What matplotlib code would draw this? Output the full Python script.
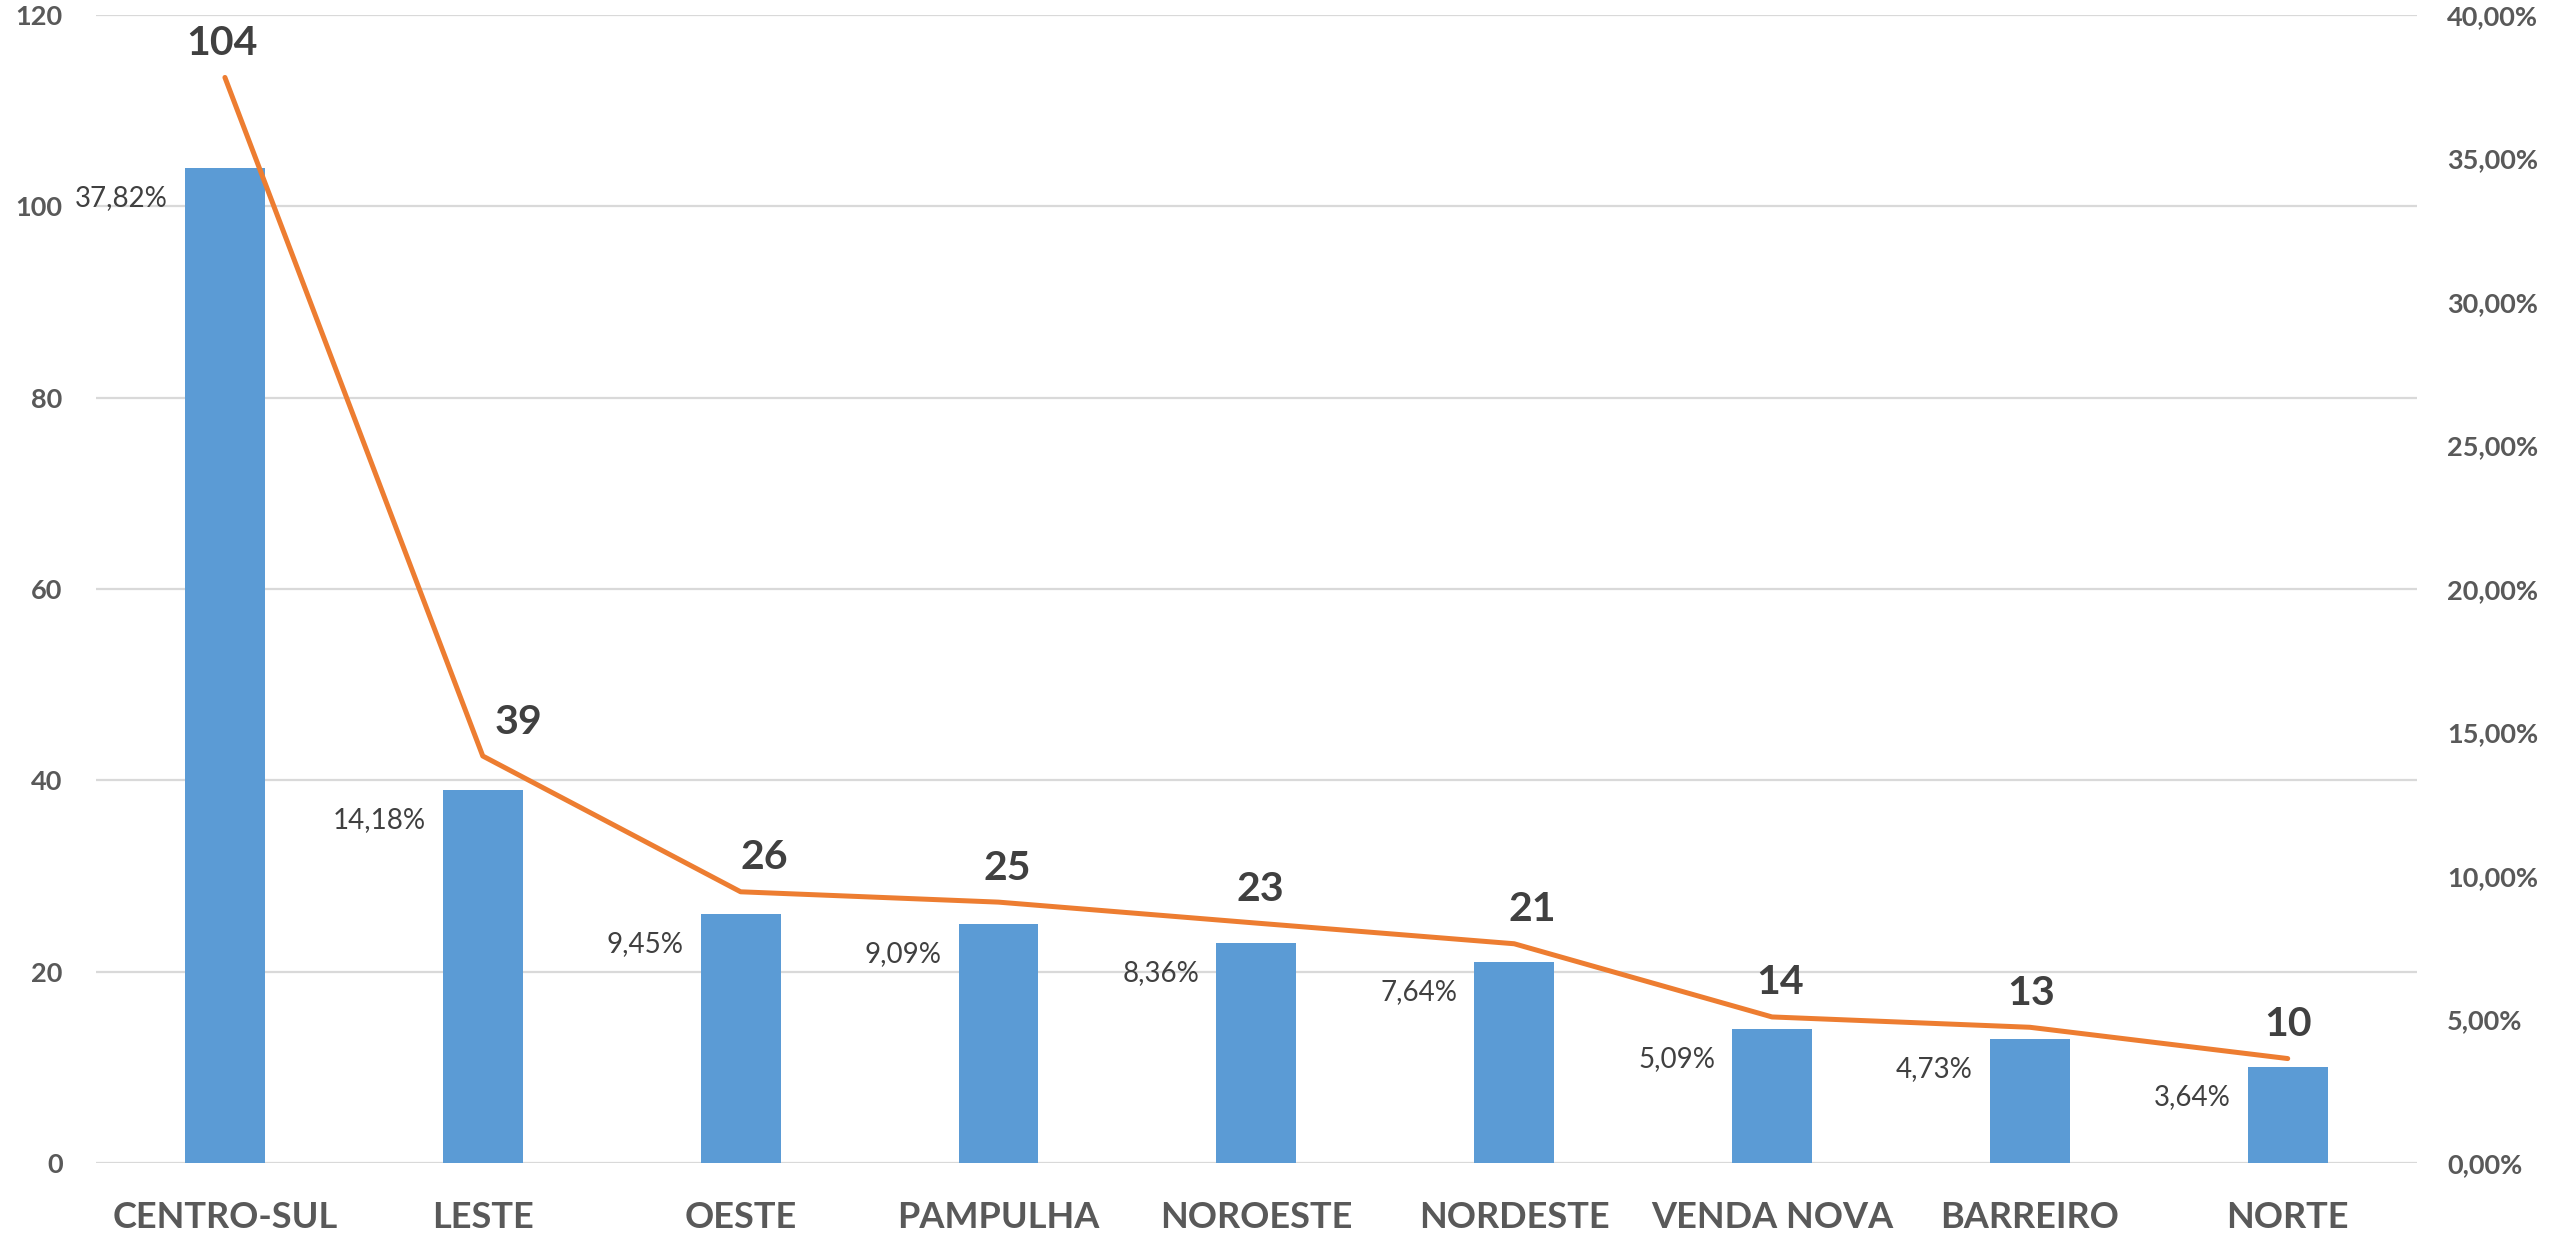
import matplotlib
matplotlib.use("Agg")
import matplotlib.pyplot as plt
from matplotlib.ticker import FuncFormatter

# data
regions = ["CENTRO-SUL", "LESTE", "OESTE", "PAMPULHA", "NOROESTE",
           "NORDESTE", "VENDA NOVA", "BARREIRO", "NORTE"]
counts = [104, 39, 26, 25, 23, 21, 14, 13, 10]
shares = [37.82, 14.18, 9.45, 9.09, 8.36, 7.64, 5.09, 4.73, 3.64]

# horizontal nudge of the count labels, in pixels (style only)
num_dx = [-3, 36, 24, 9, 4, 18, 8, 1, 0]

BLUE = "#5B9BD5"
ORANGE = "#ED7D31"
DARK = "#404040"
GREY = "#595959"
PX = 72 / 100  # points per pixel at dpi 100

plt.rcParams['font.family'] = ['Lato', 'DejaVu Sans']

fig = plt.figure(figsize=(25.6, 12.39), dpi=100)
ax = fig.add_axes([0.0375, 0.0613, 0.944 - 0.0375, 0.988 - 0.0613])
ax2 = ax.twinx()

x = list(range(len(regions)))
bar_w = 0.31
ax.bar(x, counts, width=bar_w, color=BLUE, zorder=2)
ax.set_xlim(-0.5, len(regions) - 0.5)
ax.set_ylim(0, 120)
ax.set_yticks(range(0, 121, 20))
ax.grid(axis='y', color='#D9D9D9', linewidth=1.6, zorder=0)
ax.set_axisbelow(True)
ax.set_xticks(x)
ax.set_xticklabels(regions, fontsize=26, fontweight='bold', color=GREY)
ax.tick_params(axis='x', length=0, pad=27)
ax.tick_params(axis='y', length=0, pad=24, labelsize=19.5, labelcolor=GREY)
for lbl in ax.get_yticklabels():
    lbl.set_fontweight('bold')

ax2.plot(x, shares, color=ORANGE, linewidth=3.6, solid_capstyle='round', zorder=3)
ax2.set_ylim(0, 40)
ax2.set_yticks(range(0, 41, 5))
ax2.yaxis.set_major_formatter(FuncFormatter(lambda v, p: f"{v:.2f}%".replace('.', ',')))
ax2.tick_params(axis='y', length=0, pad=22, labelsize=19.5, labelcolor=GREY)
for lbl in ax2.get_yticklabels():
    lbl.set_fontweight('bold')

for a in (ax, ax2):
    for s in a.spines.values():
        s.set_visible(False)

# bold count labels above the line
for i, (c, s) in enumerate(zip(counts, shares)):
    ax2.annotate(str(c), (i, s), xytext=(num_dx[i] * PX, 34 * PX), textcoords='offset points',
                 ha='center', va='center', fontsize=29.5, fontweight='bold', color=DARK)

# percentage labels left of each bar, a bit below its top
for i, (c, s) in enumerate(zip(counts, shares)):
    ax.annotate(f"{s:.2f}%".replace('.', ','), (i - bar_w / 2, c),
                xytext=(-17 * PX, -30 * PX), textcoords='offset points',
                ha='right', va='center', fontsize=20, color=DARK)

fig.savefig("out.png", dpi=100)
